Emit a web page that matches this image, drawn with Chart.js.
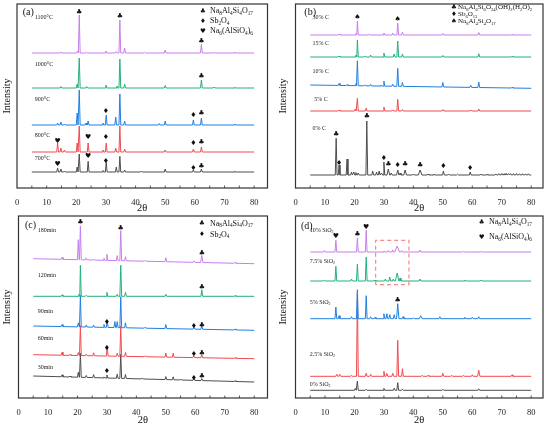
<!DOCTYPE html>
<html>
<head>
<meta charset="utf-8">
<script src="https://cdn.jsdelivr.net/npm/chart.js@4.4.0/dist/chart.umd.min.js"></script>
<style>
html, body { margin: 0; padding: 0; background: #fff; }
#wrap { position: relative; width: 550px; height: 427px; overflow: hidden; }
.panel { position: absolute; width: 275px; height: 215px; }
</style>
</head>
<body>
<div id="wrap">
  <div class="panel" style="left:0;top:0"><canvas id="chartA"></canvas></div>
  <div class="panel" style="left:275px;top:0"><canvas id="chartB"></canvas></div>
  <div class="panel" style="left:0;top:212px"><canvas id="chartC"></canvas></div>
  <div class="panel" style="left:275px;top:212px"><canvas id="chartD"></canvas></div>
</div>
<script>
const SERIF = "'Liberation Serif', 'Times New Roman', serif"
const SYM = "'DejaVu Sans', sans-serif"
const COLORS = ['#c87eea', '#22b07b', '#1f7fe0', '#f04a50', '#4d4d4d']
const xTicks = [0, 10, 20, 30, 40, 50, 60, 70, 80]
const X_START = 5
const X_END = 80

// peaks are [2theta, height above baseline, half width]
// (a) calcination temperature
const aNames = ['1100°C', '1000°C', '900°C', '800°C', '700°C']
const aBase = [[136, 136], [101, 101], [64, 64], [37, 37], [17, 17]]
const a1100 = [[14.8, 1], [20.4, 2], [21, 38], [23.5, 0.8], [30, 2], [33.5, 1.5], [34.7, 33], [36.3, 5], [43, 0.8], [50, 3], [62.2, 9], [66.5, 0.8], [73.5, 1]]
const a1000 = [[14.8, 1.5], [20.3, 4], [21, 30], [23.5, 1.5], [30, 3], [33.7, 2], [34.7, 29], [36.3, 4], [50, 2.5], [62.2, 8], [66.5, 1], [73.5, 0.8]]
const a900 = [[13.7, 2], [14.8, 3], [16, 1], [20.3, 12], [21, 35], [23.3, 2], [24, 4], [29, 2], [30.1, 10], [33.3, 8], [34.7, 31], [36.3, 4], [48, 1.5], [50, 4], [59.5, 5], [62.2, 7], [73.5, 1]]
const a800 = [[13.7, 9], [14.8, 4], [16, 2], [20.3, 9], [21, 26], [24, 9], [29, 2], [30.1, 9], [33.3, 4], [34.7, 26], [36.3, 3], [50, 2], [59.5, 3], [62.2, 5]]
const a700 = [[13.7, 4], [14.8, 3], [16, 1], [20.3, 5], [21, 18], [24, 10.7], [29, 1.5], [30.1, 9.6], [33.5, 5], [34.7, 15.7], [36.3, 2], [42, 1], [50, 3], [59.5, 2], [62.2, 3], [73.5, 0.7]]
const aLabelAt = [[6, 172], [6, 125], [6, 90], [6, 54], [6, 31]]
const aMarks = [
  ['♣', 21, 177], ['♣', 34.7, 173], ['♣', 62.2, 148], ['♣', 62.2, 113],
  ['♦', 30, 78], ['♦', 59.5, 74], ['♣', 62.2, 76],
  ['♥', 13.7, 48], ['♥', 24, 52], ['♦', 30, 52], ['♦', 59.5, 46], ['♣', 62.2, 47],
  ['♥', 13.7, 25], ['♥', 24, 33], ['♦', 30, 28], ['♦', 59.5, 21], ['♣', 62.2, 23]
]
const aLegend = [['♣', 'Na_8Al_4Si_4O_17'], ['♦', 'Sb_2O_4'], ['♥', 'Na_6(AlSiO_4)_6']]

// (b) carbon dosage
const bNames = ['30% C', '15% C', '10% C', '5% C', '0% C']
const bBase = [[146, 146], [124, 124], [96, 92.7], [70, 70], [6, 6]]
const b30 = [[14.8, 1], [20.5, 1.5], [21, 14], [25, 0.8], [30, 2], [33, 2], [34.7, 12], [36.3, 3], [50, 1.5], [62.2, 2.5], [73.5, 0.6]]
const b15 = [[14.8, 1], [20.5, 2], [21, 17], [23.5, 1], [25.5, 2], [30, 4], [33.5, 3], [34.7, 16], [36.3, 3], [50, 1.5], [62.2, 3.3], [73.5, 0.8]]
const b10 = [[14.8, 2], [17.5, 1], [20.5, 2], [21, 25], [23.5, 1], [25.5, 1.5], [29, 1], [30, 5], [33, 2], [34.7, 18], [36.3, 4], [50, 4.5], [59.5, 2], [62.2, 5.5], [73.5, 0.8]]
const b5 = [[14.8, 1], [20.3, 2], [21, 12.7], [24, 3], [30, 4], [33, 1], [34.7, 11.7], [36.3, 1.5], [50, 1.5], [59.5, 1], [62.2, 2]]
const b0 = [[13.8, 36.7], [14.8, 10], [17.5, 16], [19, 3], [19.8, 3], [20.5, 2.5], [21.3, 2], [24.2, 54], [26.2, 4], [27.5, 3], [28.4, 4], [29.2, 2], [30, 13], [31.5, 6, 0.45], [32.5, 2], [34.7, 5, 0.4], [35.5, 2], [37.2, 5, 0.45], [40, 1], [42.3, 5, 0.6], [45, 1], [47, 1], [50.2, 4], [52, 1], [55, 0.8], [59.3, 3], [63, 1], [65, 0.6],
  [68, 1], [69, 1.3], [70, 1.5], [70.8, 1.2], [71.5, 1.6], [72.3, 1.4], [73, 1.5], [74, 1.4], [75, 1.5], [76, 1.2], [77, 1.3], [78, 1.1], [79, 1.2]]
const bLabelAt = [[5.8, 164], [5.8, 138], [5.8, 110], [6.4, 82], [5.8, 53]]
const bMarks = [
  ['♠', 21, 164], ['♠', 34.7, 162],
  ['♣', 13.8, 47], ['♦', 14.8, 18.3], ['♣', 24.2, 65], ['♦', 30, 23], ['♣', 31.5, 17],
  ['♦', 34.7, 16], ['♣', 37.2, 17], ['♣', 42.3, 15.7], ['♦', 50.2, 15], ['♦', 59.3, 13]
]
const bLegend = [['♣', 'Na_8Al_6Si_6O_24(OH)_2(H_2O)_2'], ['♦', 'Sb_6O_13'], ['♠', 'Na_8Al_4Si_4O_17']]

// (c) roasting time
const cNames = ['180min', '120min', '90min', '60min', '30min']
const cBase = [[138.3, 133.3], [100.7, 100.7], [71, 66.7], [42.3, 38.3], [21, 15]]
const c180 = [[14.8, 2], [20.3, 20], [21, 34], [23, 2], [25.5, 1], [29, 2], [30, 6], [33.5, 5], [34.7, 30], [36.3, 4], [43, 1], [50, 4], [59.5, 1.5], [62.2, 7, 0.4], [73.5, 1]]
const c120 = [[14.8, 1.5], [20.5, 2], [21, 31], [23, 1], [30, 4], [33.5, 2], [34.7, 31], [36.3, 4], [50, 2], [62.2, 6.5], [73.5, 0.8]]
const c90 = [[14.8, 2], [20.3, 4], [21, 31.6], [23, 2], [25.5, 2], [29, 3], [30.1, 7], [32.7, 6], [33.5, 6], [34.7, 31], [36.3, 5], [43, 1], [50, 4], [59.5, 2], [62.2, 4], [73.5, 1]]
const c60 = [[14.8, 3], [17.5, 1], [20.3, 3], [21, 30], [23, 1.5], [25.5, 3], [30.1, 10], [33.5, 3], [34.7, 30], [36.3, 4], [43, 1], [50, 4], [52.5, 4], [59.5, 2], [62.2, 3], [73.5, 0.8]]
const c30 = [[14.8, 2], [17.5, 1], [20.3, 5], [21, 24], [23, 2], [25.5, 3], [29, 1], [30, 3], [33.5, 4], [34.7, 24], [36.3, 4], [42, 1], [50, 3], [52.5, 3], [55, 1], [59.5, 2], [62.2, 2], [73.5, 0.8]]
const cLabelAt = [[6.5, 166.7], [6.5, 121.7], [6.5, 86], [6.5, 58.3], [6.5, 30]]
const cMarks = [
  ['♣', 21, 175], ['♣', 34.7, 169], ['♣', 62.2, 144.3], ['♣', 62.2, 110],
  ['♦', 30, 75], ['♦', 59.5, 70.7], ['♣', 62.2, 71.7],
  ['♦', 30, 49], ['♦', 59.5, 43.3], ['♣', 62.2, 44.3],
  ['♦', 30, 25.7], ['♦', 59.5, 19.3], ['♣', 62.2, 20.7]
]
const cLegend = [['♣', 'Na_8Al_4Si_4O_17'], ['♦', 'Sb_2O_4']]

// (d) SiO2 addition
const dNames = ['10% SiO_2', '7.5% SiO_2', '5% SiO_2', '2.5% SiO_2', '0% SiO_2']
const dBase = [[145, 145], [116, 116], [78.3, 78.3], [20.7, 20.7], [6.7, 6.7]]
const d10 = [[9.8, 1.5], [13.7, 11.7], [21, 14], [24, 21.7], [30, 1], [31.5, 1.5], [33, 2], [34.5, 6, 0.8], [36, 1.5], [42.3, 2], [57, 0.6], [63, 0.6]]
const d75 = [[9.8, 1], [13.7, 14.7], [19, 2], [21, 17], [24, 24], [27, 1], [30.5, 2], [32, 4], [33.2, 2], [34.5, 8, 0.6], [35.5, 3], [42.3, 2], [57.5, 1], [63, 1]]
const d5 = [[13.7, 11.7], [14.8, 3], [19, 2], [21, 29], [24, 23], [25.5, 2], [27, 1.5], [30, 5], [31, 5], [32, 4], [33.5, 4], [34.7, 15, 0.4], [36.5, 2], [40, 1], [42.5, 3, 0.5], [49, 2], [57.5, 1.5], [60, 1.5], [62.2, 2]]
const d25 = [[14, 2], [15, 2], [19, 1], [21, 84], [24, 3], [25.5, 2], [30, 5], [31, 3], [33, 3], [34.7, 36], [36.3, 7.6], [43, 1], [45, 1], [50, 3], [53, 1], [57, 1], [60, 1.5], [62.2, 6, 0.4], [73.5, 1.5]]
const d0 = [[20.3, 2], [21, 9.3], [24, 1], [30, 2], [33.5, 2], [34.7, 7.6], [36.3, 1], [50, 1], [62.2, 1.5]]
const dLabelAt = [[4.8, 166.7], [4.8, 135.7], [4.8, 95], [4.8, 42.3], [4.8, 12.7]]
const dMarks = [['♥', 13.7, 161], ['♣', 21, 162.7], ['♥', 24, 170], ['♣', 34.7, 96.7]]
const dLegend = [['♣', 'Na_8Al_4Si_4O_17'], ['♥', 'Na_6(AlSiO_4)_6']]
const dBoxX = [27.2, 27.2, 38.5, 38.5, 27.2]
const dBoxY = [112.3, 156.7, 156.7, 112.3, 112.3]

const buildPattern = (base, peaks) => {
  const baseAt = x => base[0] + (base[1] - base[0]) * (x - X_START) / (X_END - X_START)
  const pts = [{ x: X_START, y: base[0] }]
  peaks.forEach(([x, h, w = 0.3]) => {
    pts.push({ x: x - w, y: baseAt(x - w) })
    pts.push({ x: x, y: baseAt(x) + h })
    pts.push({ x: x + w, y: baseAt(x + w) })
  })
  pts.push({ x: X_END, y: base[1] })
  return pts
}

const drawChem = (ctx, text, x, y, size) => {
  text.split(/(_\d+)/).forEach(part => {
    if (!part) return
    const sub = part[0] === '_'
    const s = sub ? part.slice(1) : part
    ctx.font = `${sub ? size * 0.66 : size}px ${SERIF}`
    ctx.fillText(s, x, sub ? y + size * 0.28 : y)
    x += ctx.measureText(s).width
  })
}

const decor = cfg => ({
  id: 'decor',
  afterDatasetsDraw(chart) {
    const { ctx, chartArea: ca, scales: { x, y } } = chart
    ctx.save()
    ctx.strokeStyle = '#333'
    ctx.lineWidth = 1.2
    ctx.strokeRect(ca.left, ca.top, ca.right - ca.left, ca.bottom - ca.top)
    ctx.lineWidth = 0.8
    for (let v = 5; v <= 80; v += 5) {
      const px = x.getPixelForValue(v)
      ctx.beginPath()
      ctx.moveTo(px, ca.bottom)
      ctx.lineTo(px, ca.bottom - 2.5)
      ctx.stroke()
    }
    ctx.fillStyle = '#222'
    ctx.textBaseline = 'middle'
    ctx.textAlign = 'left'
    cfg.names.forEach((n, i) => {
      drawChem(ctx, n, x.getPixelForValue(cfg.labelAt[i][0]), y.getPixelForValue(cfg.labelAt[i][1]), 6)
    })
    ctx.fillStyle = '#111'
    ctx.textAlign = 'center'
    ctx.font = `7px ${SYM}`
    cfg.marks.forEach(([s, mx, my]) => ctx.fillText(s, x.getPixelForValue(mx), y.getPixelForValue(my)))
    // panel letter
    ctx.textAlign = 'left'
    ctx.font = `10px ${SERIF}`
    ctx.fillText(cfg.letter, ca.left + cfg.letterAt[0], ca.top + cfg.letterAt[1])
    // legend
    const lg = cfg.legendAt
    cfg.legend.forEach(([s, t], i) => {
      const ly = ca.top + lg.top + i * lg.gap
      ctx.textAlign = 'center'
      ctx.font = `6.5px ${SYM}`
      ctx.fillText(s, ca.right - lg.sym, ly)
      ctx.textAlign = 'left'
      drawChem(ctx, t, ca.right - lg.text, ly, lg.size)
    })
    ctx.restore()
  }
})

const makePanel = (id, cfg) => {
  const datasets = cfg.peaks.map((p, i) => ({
    data: buildPattern(cfg.base[i], p),
    borderColor: COLORS[i],
    borderWidth: 1,
    showLine: true,
    pointRadius: 0
  }))
  if (cfg.box) {
    datasets.push({
      data: cfg.box[0].map((v, i) => ({ x: v, y: cfg.box[1][i] })),
      borderColor: '#f38a8e',
      borderWidth: 1.2,
      borderDash: [4, 3],
      showLine: true,
      pointRadius: 0
    })
  }
  return new Chart(document.getElementById(id), {
    type: 'scatter',
    data: { datasets: datasets },
    options: {
      responsive: true,
      maintainAspectRatio: false,
      animation: false,
      layout: { padding: { top: 4, right: cfg.padRight, left: 0, bottom: 0 } },
      plugins: { legend: { display: false }, tooltip: { enabled: false } },
      scales: {
        x: {
          type: 'linear',
          min: 0,
          max: cfg.xMax,
          grid: { display: false },
          border: { display: false },
          afterBuildTicks: ax => { ax.ticks = xTicks.map(v => ({ value: v })) },
          afterFit: ax => { ax.height = cfg.xH },
          ticks: { padding: 2, color: '#222', maxRotation: 0, autoSkip: false, font: { family: SERIF, size: 8.5 } },
          title: { display: true, text: '2θ', color: '#111', padding: 0, font: { family: SERIF, size: 10.5 } }
        },
        y: {
          min: cfg.yMin,
          max: cfg.yMax,
          grid: { display: false },
          border: { display: false },
          ticks: { display: false },
          afterFit: ax => { ax.width = cfg.yW },
          title: { display: true, text: 'Intensity', color: '#111', padding: { top: cfg.yPad, bottom: 0 }, font: { family: SERIF, size: 10 } }
        }
      }
    },
    plugins: [decor(cfg)]
  })
}

makePanel('chartA', {
  peaks: [a1100, a1000, a900, a800, a700], base: aBase, names: aNames, labelAt: aLabelAt, marks: aMarks,
  legend: aLegend, legendAt: { sym: 64.5, text: 57.5, top: 7, gap: 10, size: 8 },
  letter: '(a)', letterAt: [5.7, 8.7],
  xMax: 84.5, yMin: 1, yMax: 185, yW: 17, xH: 27, padRight: 7.5, yPad: 1
})
makePanel('chartB', {
  peaks: [b30, b15, b10, b5, b0], base: bBase, names: bNames, labelAt: bLabelAt, marks: bMarks,
  legend: bLegend, legendAt: { sym: 89, text: 85, top: 3.5, gap: 7, size: 7 },
  letter: '(b)', letterAt: [8.8, 8.7],
  xMax: 84, yMin: -7, yMax: 177, yW: 20.5, xH: 27, padRight: 7, yPad: 2.3
})
makePanel('chartC', {
  peaks: [c180, c120, c90, c60, c30], base: cBase, names: cNames, labelAt: cLabelAt, marks: cMarks,
  legend: cLegend, legendAt: { sym: 65.5, text: 57.5, top: 7.7, gap: 11, size: 8 },
  letter: '(c)', letterAt: [6.5, 9.3],
  xMax: 84.5, yMin: -1, yMax: 181, yW: 18.5, xH: 29, padRight: 7.5, yPad: 1
})
makePanel('chartD', {
  peaks: [d10, d75, d5, d25, d0], base: dBase, names: dNames, labelAt: dLabelAt, marks: dMarks,
  legend: dLegend, legendAt: { sym: 61.3, text: 54, top: 6, gap: 15, size: 8 },
  letter: '(d)', letterAt: [5.5, 10.3], box: [dBoxX, dBoxY],
  xMax: 84, yMin: -1, yMax: 181, yW: 20.5, xH: 29, padRight: 7, yPad: 2.3
})
</script>
</body>
</html>
